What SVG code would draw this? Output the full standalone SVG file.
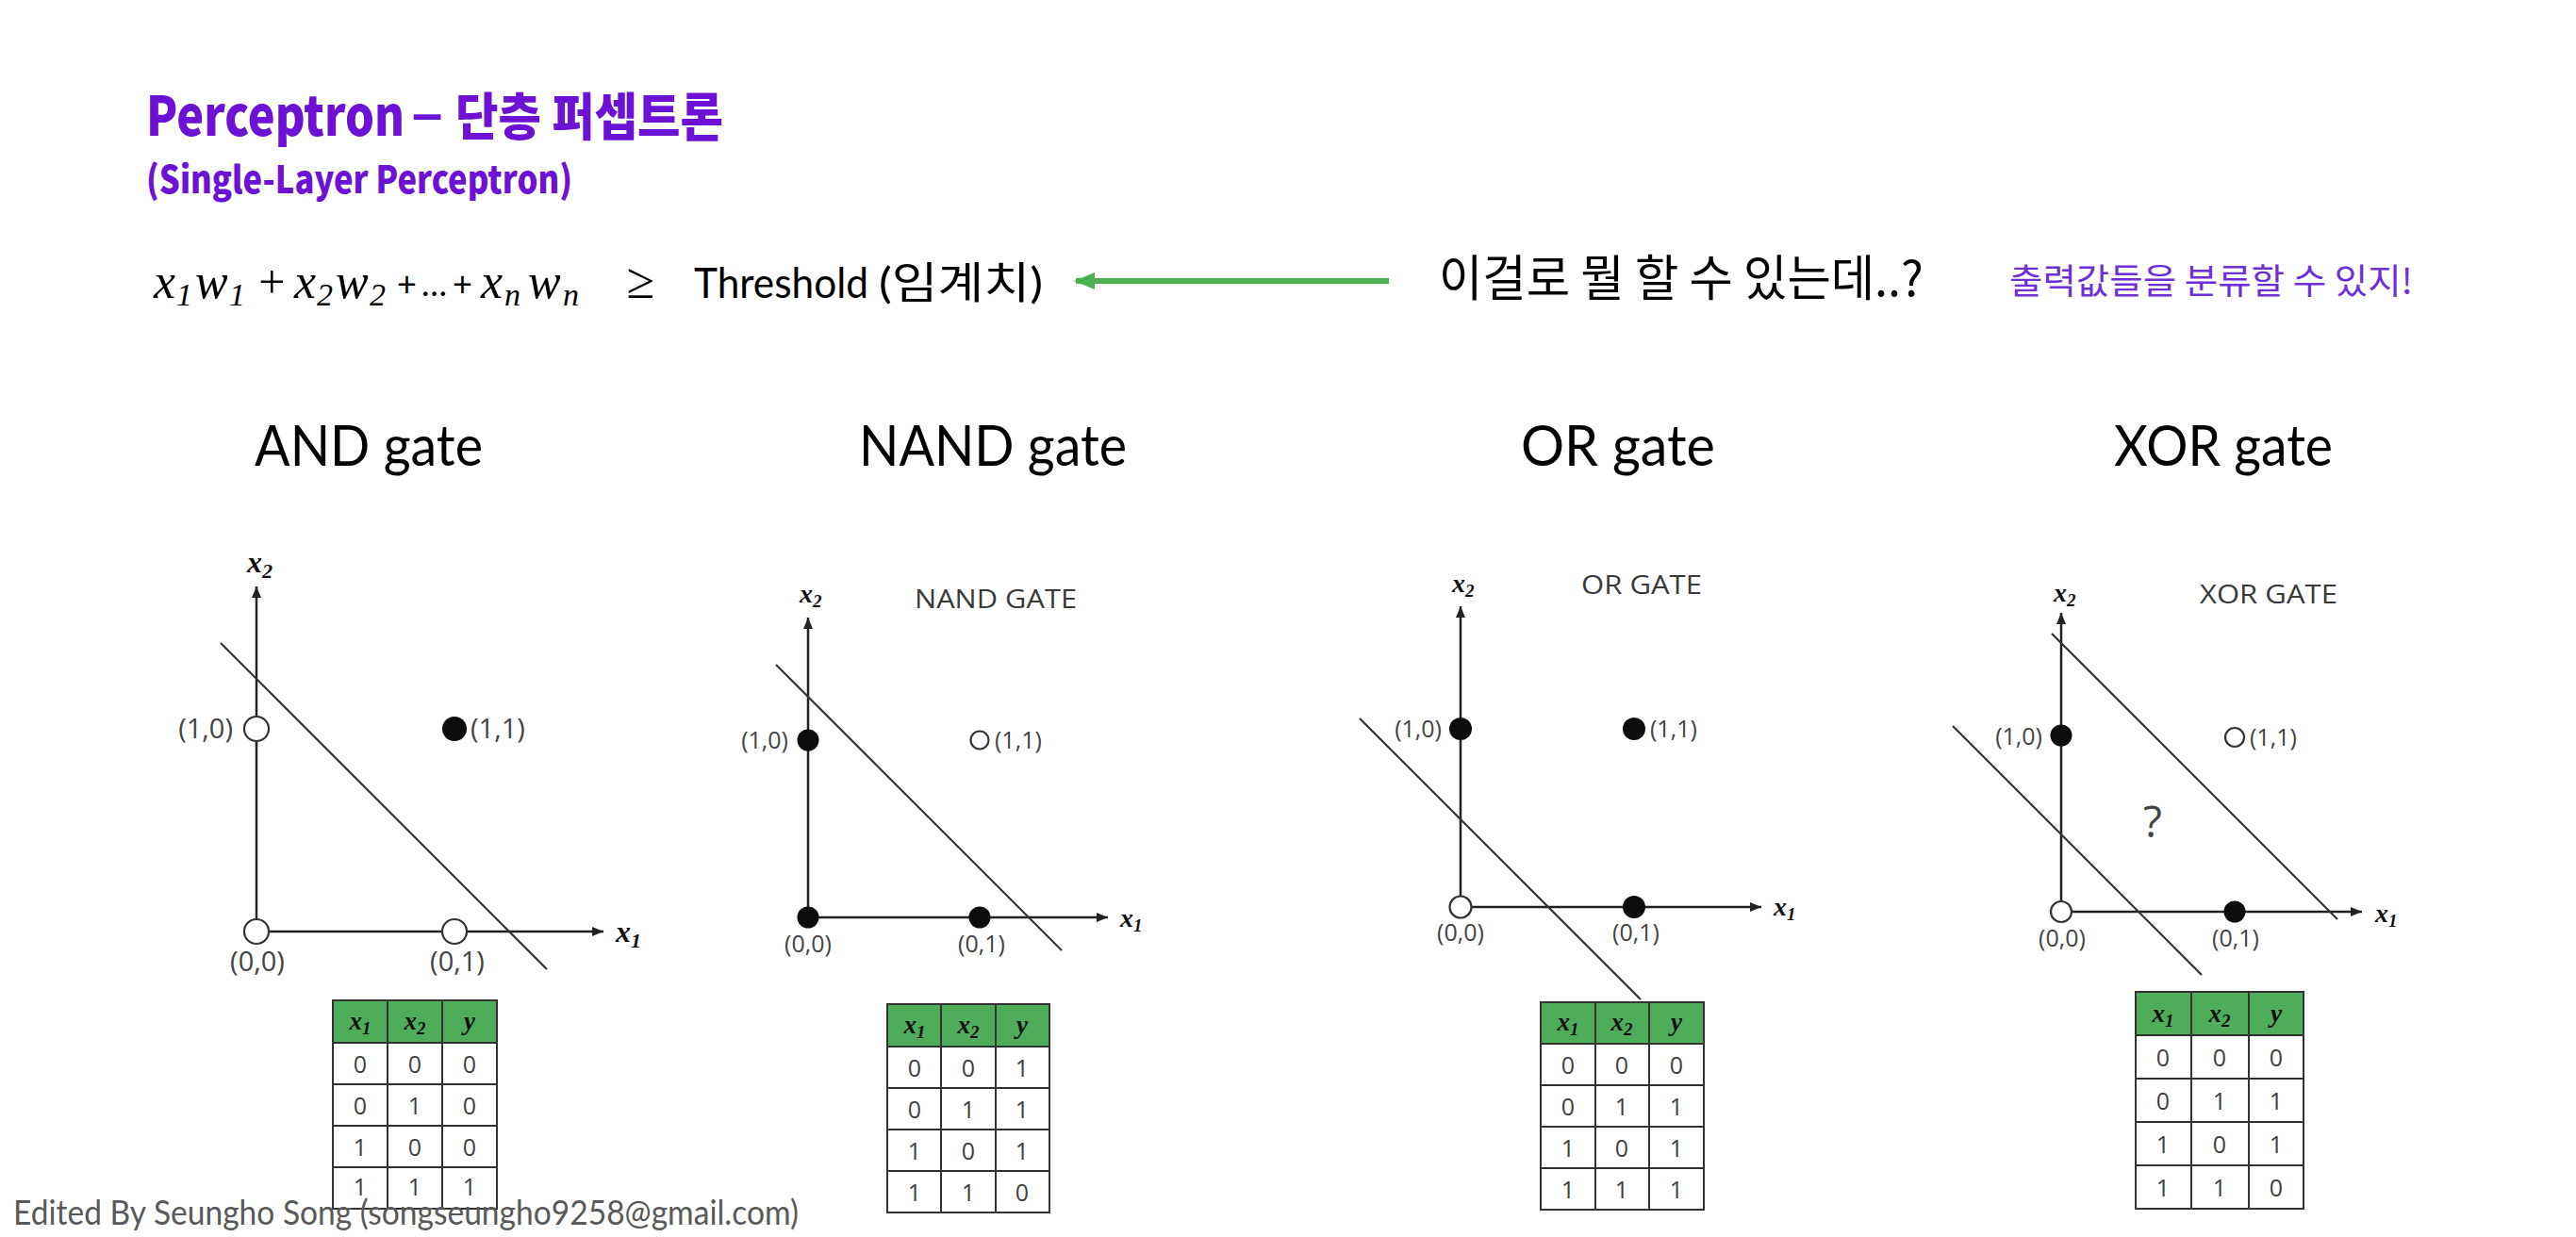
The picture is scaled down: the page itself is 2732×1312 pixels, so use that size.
<svg xmlns="http://www.w3.org/2000/svg" width="2732" height="1312" viewBox="0 0 2732 1312">
<style>
.ttl{font-family:"Noto Sans CJK KR","Noto Sans",sans-serif;font-weight:900;fill:#6C12D4}
.gt{font-family:Lato,"Liberation Sans",sans-serif;font-size:60px;fill:#000}
.lbl{font-family:"Open Sans","Liberation Sans",sans-serif;fill:#444}
.gname{font-family:"Open Sans","Liberation Sans",sans-serif;font-size:28px;fill:#3a3a3a}
.ax{stroke:#222;stroke-width:2.5;fill:none}
.sep{stroke:#333;stroke-width:2.2;fill:none}
.pf{fill:#0d0d0d}
.po{fill:#fff;stroke:#333;stroke-width:2.2}
.mi{font-family:"Liberation Serif",serif;font-style:italic;font-weight:700;fill:#111}
.math{font-family:"Liberation Serif",serif;font-style:italic;fill:#000}
.txt{font-family:Lato,"Liberation Sans","Noto Sans CJK KR",sans-serif;fill:#000}
.kr{font-family:"Noto Sans CJK KR",sans-serif}
.hdr{fill:#4EAD5B;stroke:#333;stroke-width:2}
.cell{fill:#fff;stroke:#333;stroke-width:2}
.grid{stroke:#333;stroke-width:2}
.dg{font-family:"Open Sans","Liberation Sans",sans-serif;font-size:25px;fill:#404040;text-anchor:middle}
.th{font-family:"Liberation Serif",serif;font-style:italic;font-weight:700;font-size:27px;fill:#111;text-anchor:middle}
</style>
<defs>
<marker id="axh" viewBox="0 0 12 10" refX="12" refY="5" markerWidth="12" markerHeight="10" markerUnits="userSpaceOnUse" orient="auto"><path d="M0,0 L12,5 L0,10 z" fill="#222"/></marker>
<marker id="gh" viewBox="0 0 22 18" refX="20" refY="9" markerWidth="22" markerHeight="18" markerUnits="userSpaceOnUse" orient="auto"><path d="M0,0 L22,9 L0,18 z" fill="#4CAF50"/></marker>
</defs>
<rect width="2732" height="1312" fill="#fff"/>

<g id="title">
<text class="ttl" x="155" y="144" font-size="58" textLength="274" lengthAdjust="spacingAndGlyphs">Perceptron</text>
<text x="437" y="140" font-family="'Liberation Sans',sans-serif" font-weight="700" font-size="58" fill="#6C12D4">–</text>
<text class="ttl" x="483" y="144" font-size="54" textLength="284" lengthAdjust="spacingAndGlyphs">단층 퍼셉트론</text>
<text class="ttl" x="155" y="205" font-size="40" textLength="452" lengthAdjust="spacingAndGlyphs">(Single-Layer Perceptron)</text>
</g>

<g id="formula">
<text class="math" x="163" y="316" font-size="52">x<tspan x="187" font-size="34" dy="8">1</tspan><tspan x="207" dy="-8">w</tspan><tspan x="243" font-size="34" dy="8">1</tspan></text>
<text class="math" x="271" y="316" font-size="50" font-style="normal">+</text>
<text class="math" x="312" y="316" font-size="52">x<tspan x="336" font-size="34" dy="8">2</tspan><tspan x="356" dy="-8">w</tspan><tspan x="392" font-size="34" dy="8">2</tspan></text>
<text class="txt" x="421" y="314" font-size="36">+</text>
<text class="txt" x="447" y="314" font-size="36">…</text>
<text class="txt" x="480" y="314" font-size="36">+</text>
<text class="math" x="510" y="316" font-size="52">x<tspan x="535" font-size="34" dy="8">n</tspan><tspan x="560" dy="-8">w</tspan><tspan x="597" font-size="34" dy="8">n</tspan></text>
<text class="math" x="664" y="316" font-size="54" font-style="normal">≥</text>
<text class="txt" x="736" y="316" font-size="45" textLength="185" lengthAdjust="spacingAndGlyphs">Threshold</text>
<text class="txt" x="932" y="316" font-size="45" textLength="174" lengthAdjust="spacingAndGlyphs">(<tspan class="kr" font-size="46">임계치</tspan>)</text>
</g>

<g id="question">
<text class="kr" x="1526" y="314" font-size="52" fill="#000" textLength="514" lengthAdjust="spacingAndGlyphs">이걸로 뭘 할 수 있는데..?</text>
</g>
<g id="answer">
<text class="kr" x="2131" y="312" font-size="37" fill="#6F2FD6" textLength="428" lengthAdjust="spacingAndGlyphs">출력값들을 분류할 수 있지!</text>
</g>

<g id="connectors">
<line x1="1473" y1="298" x2="1141" y2="298" stroke="#4CAF50" stroke-width="6" marker-end="url(#gh)"/>
</g>

<g id="and-gate">
<text class="gt" x="270" y="494" textLength="242" lengthAdjust="spacingAndGlyphs">AND gate</text>
<line class="ax" x1="272" y1="988" x2="272" y2="622" marker-end="url(#axh)"/>
<line class="ax" x1="272" y1="988" x2="640" y2="988" marker-end="url(#axh)"/>
<line class="sep" x1="234" y1="682" x2="580" y2="1028"/>
<text class="mi" x="262" y="607" font-size="32">x<tspan font-size="22" dy="6">2</tspan></text>
<text class="mi" x="653" y="999" font-size="32">x<tspan font-size="22" dy="6">1</tspan></text>
<circle class="po" cx="272" cy="773" r="13"/>
<circle class="pf" cx="482" cy="773" r="13"/>
<circle class="po" cx="272" cy="988" r="13"/>
<circle class="po" cx="482" cy="988" r="13"/>
<text class="lbl" x="247" y="783" font-size="29" text-anchor="end">(1,0)</text>
<text class="lbl" x="499" y="783" font-size="29">(1,1)</text>
<text class="lbl" x="273" y="1030" font-size="29" text-anchor="middle">(0,0)</text>
<text class="lbl" x="485" y="1030" font-size="29" text-anchor="middle">(0,1)</text>
<rect class="hdr" x="353" y="1061" width="174" height="45"/>
<rect class="cell" x="353" y="1106" width="174" height="176"/>
<path class="grid" d="M353,1150H527M353,1194H527M353,1238H527M411,1061V1282M469,1061V1282"/>
<text class="th" x="382" y="1092">x<tspan font-size="19" dy="5">1</tspan></text>
<text class="th" x="440" y="1092">x<tspan font-size="19" dy="5">2</tspan></text>
<text class="th" x="498" y="1092">y</text>
<text class="dg" x="382" y="1138">0</text><text class="dg" x="440" y="1138">0</text><text class="dg" x="498" y="1138">0</text>
<text class="dg" x="382" y="1182">0</text><text class="dg" x="440" y="1182">1</text><text class="dg" x="498" y="1182">0</text>
<text class="dg" x="382" y="1226">1</text><text class="dg" x="440" y="1226">0</text><text class="dg" x="498" y="1226">0</text>
<text class="dg" x="382" y="1268">1</text><text class="dg" x="440" y="1268">1</text><text class="dg" x="498" y="1268">1</text>
</g>

<g id="nand-gate">
<text class="gt" x="911" y="494" textLength="284" lengthAdjust="spacingAndGlyphs">NAND gate</text>
<line class="ax" x1="857" y1="973" x2="857" y2="655" marker-end="url(#axh)"/>
<line class="ax" x1="857" y1="973" x2="1175" y2="973" marker-end="url(#axh)"/>
<line class="sep" x1="823" y1="705" x2="1126" y2="1008"/>
<text class="mi" x="848" y="639" font-size="28">x<tspan font-size="19" dy="5">2</tspan></text>
<text class="mi" x="1188" y="983" font-size="28">x<tspan font-size="19" dy="5">1</tspan></text>
<text class="gname" x="970" y="645" textLength="172" lengthAdjust="spacingAndGlyphs">NAND GATE</text>
<circle class="pf" cx="857" cy="785" r="11.5"/>
<circle class="po" cx="1039" cy="785" r="9.5"/>
<circle class="pf" cx="857" cy="973" r="11.5"/>
<circle class="pf" cx="1039" cy="973" r="11.5"/>
<text class="lbl" x="836" y="794" font-size="25" text-anchor="end">(1,0)</text>
<text class="lbl" x="1055" y="794" font-size="25">(1,1)</text>
<text class="lbl" x="857" y="1010" font-size="25" text-anchor="middle">(0,0)</text>
<text class="lbl" x="1041" y="1010" font-size="25" text-anchor="middle">(0,1)</text>
<rect class="hdr" x="941" y="1065" width="172" height="45"/>
<rect class="cell" x="941" y="1110" width="172" height="176"/>
<path class="grid" d="M941,1154H1113M941,1198H1113M941,1242H1113M998,1065V1286M1056,1065V1286"/>
<text class="th" x="970" y="1096">x<tspan font-size="19" dy="5">1</tspan></text>
<text class="th" x="1027" y="1096">x<tspan font-size="19" dy="5">2</tspan></text>
<text class="th" x="1084" y="1096">y</text>
<text class="dg" x="970" y="1142">0</text><text class="dg" x="1027" y="1142">0</text><text class="dg" x="1084" y="1142">1</text>
<text class="dg" x="970" y="1186">0</text><text class="dg" x="1027" y="1186">1</text><text class="dg" x="1084" y="1186">1</text>
<text class="dg" x="970" y="1230">1</text><text class="dg" x="1027" y="1230">0</text><text class="dg" x="1084" y="1230">1</text>
<text class="dg" x="970" y="1274">1</text><text class="dg" x="1027" y="1274">1</text><text class="dg" x="1084" y="1274">0</text>
</g>

<g id="or-gate">
<text class="gt" x="1613" y="494" textLength="206" lengthAdjust="spacingAndGlyphs">OR gate</text>
<line class="ax" x1="1549" y1="962" x2="1549" y2="643" marker-end="url(#axh)"/>
<line class="ax" x1="1549" y1="962" x2="1868" y2="962" marker-end="url(#axh)"/>
<line class="sep" x1="1442" y1="762" x2="1740" y2="1060"/>
<text class="mi" x="1540" y="628" font-size="28">x<tspan font-size="19" dy="5">2</tspan></text>
<text class="mi" x="1881" y="971" font-size="28">x<tspan font-size="19" dy="5">1</tspan></text>
<text class="gname" x="1677" y="630" textLength="128" lengthAdjust="spacingAndGlyphs">OR GATE</text>
<circle class="pf" cx="1549" cy="773" r="12"/>
<circle class="pf" cx="1733" cy="773" r="12"/>
<circle class="po" cx="1549" cy="962" r="11.5"/>
<circle class="pf" cx="1733" cy="962" r="12"/>
<text class="lbl" x="1529" y="782" font-size="25" text-anchor="end">(1,0)</text>
<text class="lbl" x="1750" y="782" font-size="25">(1,1)</text>
<text class="lbl" x="1549" y="998" font-size="25" text-anchor="middle">(0,0)</text>
<text class="lbl" x="1735" y="998" font-size="25" text-anchor="middle">(0,1)</text>
<rect class="hdr" x="1634" y="1063" width="173" height="44"/>
<rect class="cell" x="1634" y="1107" width="173" height="176"/>
<path class="grid" d="M1634,1151H1807M1634,1195H1807M1634,1239H1807M1692,1063V1283M1749,1063V1283"/>
<text class="th" x="1663" y="1093">x<tspan font-size="19" dy="5">1</tspan></text>
<text class="th" x="1720" y="1093">x<tspan font-size="19" dy="5">2</tspan></text>
<text class="th" x="1778" y="1093">y</text>
<text class="dg" x="1663" y="1139">0</text><text class="dg" x="1720" y="1139">0</text><text class="dg" x="1778" y="1139">0</text>
<text class="dg" x="1663" y="1183">0</text><text class="dg" x="1720" y="1183">1</text><text class="dg" x="1778" y="1183">1</text>
<text class="dg" x="1663" y="1227">1</text><text class="dg" x="1720" y="1227">0</text><text class="dg" x="1778" y="1227">1</text>
<text class="dg" x="1663" y="1271">1</text><text class="dg" x="1720" y="1271">1</text><text class="dg" x="1778" y="1271">1</text>
</g>

<g id="xor-gate">
<text class="gt" x="2242" y="494" textLength="232" lengthAdjust="spacingAndGlyphs">XOR gate</text>
<line class="ax" x1="2186" y1="967" x2="2186" y2="650" marker-end="url(#axh)"/>
<line class="ax" x1="2186" y1="967" x2="2505" y2="967" marker-end="url(#axh)"/>
<line class="sep" x1="2176" y1="672" x2="2479" y2="975"/>
<line class="sep" x1="2071" y1="770" x2="2335" y2="1034"/>
<text class="mi" x="2178" y="638" font-size="28">x<tspan font-size="19" dy="5">2</tspan></text>
<text class="mi" x="2519" y="978" font-size="28">x<tspan font-size="19" dy="5">1</tspan></text>
<text class="gname" x="2333" y="640" textLength="146" lengthAdjust="spacingAndGlyphs">XOR GATE</text>
<text class="lbl" x="2283" y="888" font-size="46" text-anchor="middle" fill="#333">?</text>
<circle class="pf" cx="2186" cy="780" r="11.5"/>
<circle class="po" cx="2370" cy="782" r="10"/>
<circle class="po" cx="2186" cy="967" r="11"/>
<circle class="pf" cx="2370" cy="967" r="11.5"/>
<text class="lbl" x="2166" y="790" font-size="25" text-anchor="end">(1,0)</text>
<text class="lbl" x="2386" y="791" font-size="25">(1,1)</text>
<text class="lbl" x="2187" y="1004" font-size="25" text-anchor="middle">(0,0)</text>
<text class="lbl" x="2371" y="1004" font-size="25" text-anchor="middle">(0,1)</text>
<rect class="hdr" x="2265" y="1052" width="178" height="46"/>
<rect class="cell" x="2265" y="1098" width="178" height="184"/>
<path class="grid" d="M2265,1144H2443M2265,1190H2443M2265,1236H2443M2324,1052V1282M2385,1052V1282"/>
<text class="th" x="2294" y="1084">x<tspan font-size="19" dy="5">1</tspan></text>
<text class="th" x="2354" y="1084">x<tspan font-size="19" dy="5">2</tspan></text>
<text class="th" x="2414" y="1084">y</text>
<text class="dg" x="2294" y="1131">0</text><text class="dg" x="2354" y="1131">0</text><text class="dg" x="2414" y="1131">0</text>
<text class="dg" x="2294" y="1177">0</text><text class="dg" x="2354" y="1177">1</text><text class="dg" x="2414" y="1177">1</text>
<text class="dg" x="2294" y="1223">1</text><text class="dg" x="2354" y="1223">0</text><text class="dg" x="2414" y="1223">1</text>
<text class="dg" x="2294" y="1269">1</text><text class="dg" x="2354" y="1269">1</text><text class="dg" x="2414" y="1269">0</text>
</g>

<g id="footer">
<text x="14" y="1299" font-family="Lato,'Liberation Sans',sans-serif" font-size="36" fill="#595959" textLength="833" lengthAdjust="spacingAndGlyphs">Edited By Seungho Song (songseungho9258@gmail.com)</text>
</g>
</svg>
